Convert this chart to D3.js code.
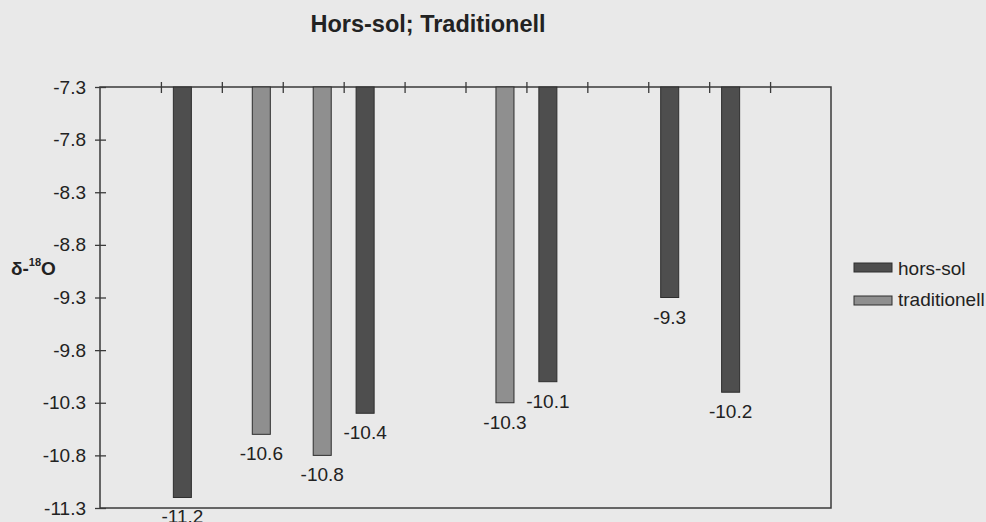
<!DOCTYPE html>
<html>
<head>
<meta charset="utf-8">
<script src="https://cdn.jsdelivr.net/npm/d3@7"></script>
<style>
  body { margin: 0; background: #e9e9e9; }
  svg { display: block; font-family: "Liberation Sans", Arial, sans-serif; }
  .tick text { font-size: 19px; fill: #222; }
  .domain { display: none; }
</style>
</head>
<body>
<svg id="chart" width="986" height="522"></svg>
<script>
// categories have no labels in the original, just 12 slots
const categories = ["1","2","3","4","5","6","7","8","9","10","11","12"]
const series = ["hors-sol", "traditionell"]
const horsSol      = [null, -11.2, null, null, -10.4, null, null, -10.1, null, -9.3, -10.2, null]
const traditionell = [null, null, -10.6, -10.8, null, null, -10.3, null, null, null, null, null]
const yTicks = [-7.3, -7.8, -8.3, -8.8, -9.3, -9.8, -10.3, -10.8, -11.3]
const colors = {"hors-sol": "#4e4e4e", "traditionell": "#8f8f8f"}

const plotLeft = 100, plotRight = 831, plotTop = 87, plotBottom = 508

let svg = d3.select("#chart")

let x0 = d3.scaleBand().domain(categories).range([plotLeft, plotRight]).padding(0)
let x1 = d3.scaleBand().domain(series).range([0, x0.bandwidth()]).paddingOuter(0.69)
let xEdge = d3.scaleLinear().domain([0, categories.length]).range([plotLeft, plotRight])
let y = d3.scaleLinear().domain([-11.3, -7.3]).range([plotBottom, plotTop])

// plain hyphen minus like the original, not d3's unicode minus
const fmt = d => d.toFixed(1)

// frame
svg.append("rect")
    .attr("x", plotLeft).attr("y", plotTop)
    .attr("width", plotRight - plotLeft).attr("height", plotBottom - plotTop)
    .attr("fill", "none").attr("stroke", "#3a3a3a").attr("stroke-width", 1.5)

// bars
let rows = []
categories.forEach((c, i) => {
    if (horsSol[i] != null) rows.push({cat: c, s: "hors-sol", v: horsSol[i]})
    if (traditionell[i] != null) rows.push({cat: c, s: "traditionell", v: traditionell[i]})
})

svg.selectAll(".bar")
    .data(rows)
    .enter()
    .append("rect")
    .attr("class", "bar")
    .attr("x", d => x0(d.cat) + x1(d.s))
    .attr("y", y(-7.3))
    .attr("width", x1.bandwidth())
    .attr("height", d => y(d.v) - y(-7.3))
    .attr("fill", d => colors[d.s])
    .attr("stroke", "#2e2e2e")
    .attr("stroke-width", 1)

svg.selectAll(".barlabel")
    .data(rows)
    .enter()
    .append("text")
    .attr("x", d => x0(d.cat) + x1(d.s) + x1.bandwidth() / 2)
    .attr("y", d => y(d.v) + 26)
    .attr("text-anchor", "middle")
    .style("font-size", "19px")
    .style("fill", "#222")
    .text(d => fmt(d.v))

// y axis, ticks crossing the line
let yAxis = d3.axisLeft(y).tickValues(yTicks).tickFormat(fmt).tickSize(5).tickPadding(9)
let gy = svg.append("g").attr("transform", `translate(${plotLeft},0)`).call(yAxis)
gy.selectAll(".tick line").attr("x1", 6).attr("x2", -5).attr("stroke", "#3a3a3a").attr("stroke-width", 1.3)

// category axis on top (value axis crosses at -7.3)
let xAxis = d3.axisTop(xEdge).tickValues(d3.range(1, categories.length)).tickFormat("").tickSize(5)
let gx = svg.append("g").attr("transform", `translate(0,${plotTop})`).call(xAxis)
gx.selectAll(".tick line").attr("y1", 6).attr("y2", -5).attr("stroke", "#3a3a3a").attr("stroke-width", 1.3)

// title
svg.append("text")
    .attr("x", 428).attr("y", 32)
    .attr("text-anchor", "middle")
    .style("font-size", "23.5px").style("font-weight", "bold").style("fill", "#222")
    .text("Hors-sol; Traditionell")

// y label
let yl = svg.append("text")
    .attr("x", 11).attr("y", 275)
    .style("font-size", "19px").style("font-weight", "bold").style("fill", "#222")
yl.append("tspan").text("δ-")
yl.append("tspan").attr("dy", -9).style("font-size", "11px").text("18")
yl.append("tspan").attr("dy", 9).text("O")

// legend
let legend = svg.append("g")
series.forEach((s, i) => {
    legend.append("rect")
        .attr("x", 854).attr("y", 263 + i * 33)
        .attr("width", 38).attr("height", 9)
        .attr("fill", colors[s]).attr("stroke", "#2e2e2e").attr("stroke-width", 1)
    legend.append("text")
        .attr("x", 898).attr("y", 275 + i * 31)
        .style("font-size", "19px").style("fill", "#222")
        .text(s)
})
</script>
</body>
</html>
